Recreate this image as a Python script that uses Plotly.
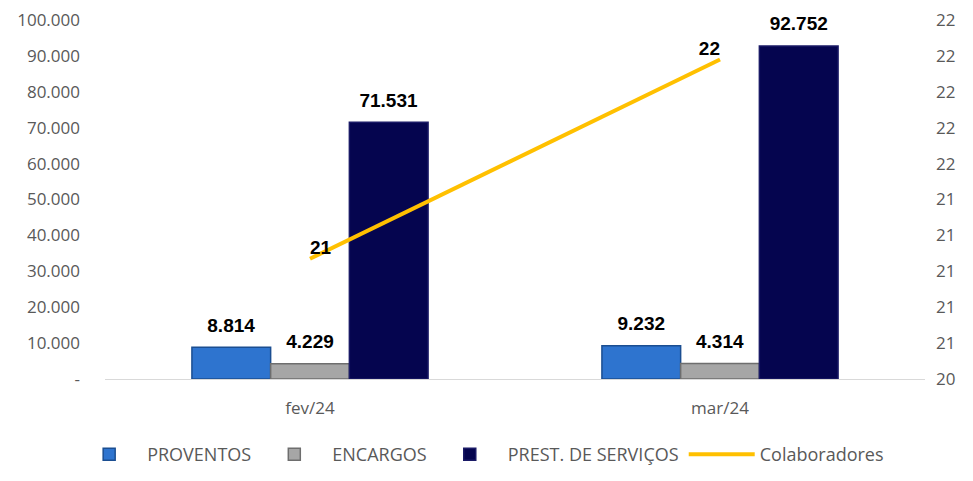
import plotly.graph_objects as go

categories = ["fev/24", "mar/24"]
proventos = [8814, 9232]
encargos = [4229, 4314]
prest_servicos = [71531, 92752]
colaboradores = [21.07, 22.18]

left_tickvals = [0, 10000, 20000, 30000, 40000, 50000, 60000, 70000, 80000, 90000, 100000]
left_ticktext = ["-", "10.000", "20.000", "30.000", "40.000", "50.000", "60.000",
                 "70.000", "80.000", "90.000", "100.000"]

FONT = "Open Sans"
label_font = dict(family="Liberation Sans", size=19, color="#000000")

fig = go.Figure()

def bar(name, vals, color, edge):
    fig.add_trace(go.Bar(
        x=categories, y=vals, name=name,
        marker=dict(color=color, line=dict(color=edge, width=1.5)),
        texttemplate="<span style='font-size:19px'><b>%{y:,.0f}</b></span><br><sup>&nbsp;</sup>",
        textposition="outside",
        textfont=dict(family="Liberation Sans", size=12, color="#000000"),
        cliponaxis=False,
    ))

bar("PROVENTOS", proventos, "#2E74CF", "#1B4E91")
bar("ENCARGOS", encargos, "#A6A6A6", "#6E6E6E")
bar("PREST. DE SERVIÇOS", prest_servicos, "#05054F", "#1A1A66")

fig.add_trace(go.Scatter(
    x=categories, y=colaboradores, name="Colaboradores", yaxis="y2",
    mode="lines+text", line=dict(color="#FFC000", width=4),
    texttemplate="<b>%{y:.0f}</b>", textposition=["top right", "top left"],
    textfont=label_font, cliponaxis=False,
))

fig.update_layout(
    width=957, height=465,
    separators=",.",
    paper_bgcolor="white", plot_bgcolor="white",
    margin=dict(l=97, r=40, t=12, b=94, autoexpand=False),
    barmode="group", bargap=0.424, bargroupgap=0,
    font=dict(family=FONT, size=15, color="#595959"),
    xaxis=dict(showgrid=False, showline=True, linecolor="#D9D9D9", linewidth=1,
               ticks="", tickfont=dict(size=17, color="#595959"),
               ticklabelstandoff=14, automargin=False, ticklabeloverflow="allow"),
    yaxis=dict(range=[0, 100000], tickvals=left_tickvals, ticktext=left_ticktext,
               showgrid=False, zeroline=False, showline=False, ticks="",
               tickfont=dict(size=17, color="#595959"), ticklabelstandoff=24,
               automargin=False, ticklabeloverflow="allow"),
    yaxis2=dict(range=[20.4, 22.4], overlaying="y", side="right", tick0=20.4, dtick=0.2,
                tickformat=".0f", showgrid=False, zeroline=False, showline=False, ticks="",
                tickfont=dict(size=17, color="#595959"), ticklabelstandoff=10,
                automargin=False, ticklabeloverflow="allow"),
    legend=dict(orientation="h", xref="container", x=0.066, xanchor="left",
                yref="container", y=0.0, yanchor="bottom",
                font=dict(size=18, color="#595959"),
                traceorder="normal", itemwidth=66),
    showlegend=True,
)

fig.write_html("out.html")
